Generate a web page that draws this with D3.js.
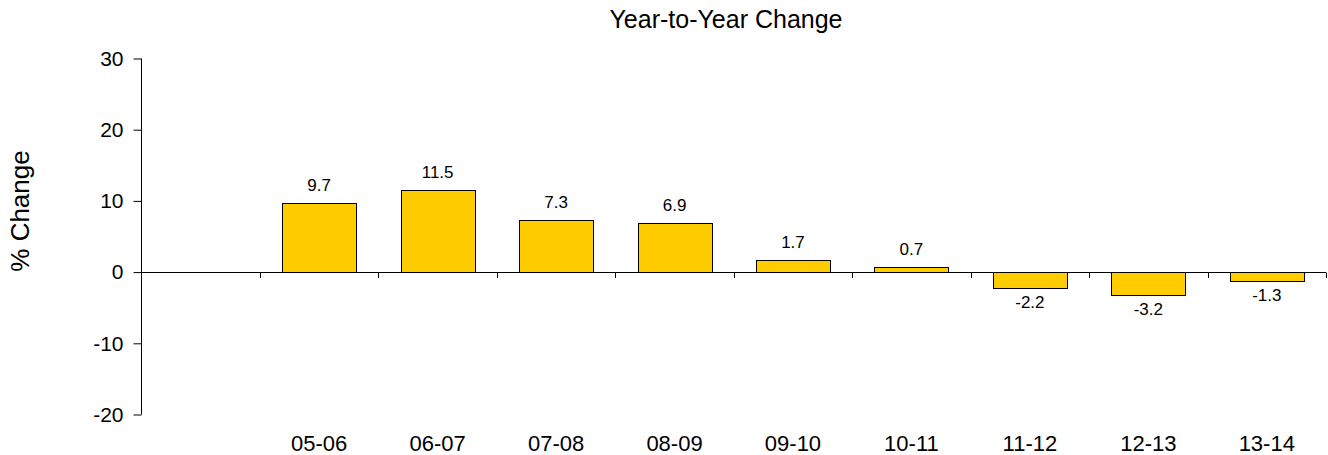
<!DOCTYPE html>
<html><head><meta charset="utf-8">
<script src="https://cdn.jsdelivr.net/npm/d3@7"></script>
<style>body{margin:0;background:#fff;} svg{display:block;font-family:"Liberation Sans",Arial,sans-serif;}</style>
</head><body>
<svg id="c" width="1328" height="455"></svg>
<script>
const categories = ["04-05","05-06","06-07","07-08","08-09","09-10","10-11","11-12","12-13","13-14"];
const tickLabels = ["","05-06","06-07","07-08","08-09","09-10","10-11","11-12","12-13","13-14"];
const values = [null, 9.7, 11.5, 7.3, 6.9, 1.7, 0.7, -2.2, -3.2, -1.3];
const yTicks = [-20, -10, 0, 10, 20, 30];

const svg = d3.select("#c");
const x = d3.scaleBand().domain(categories).range([141.5, 1326]).paddingInner(0.375).paddingOuter(0.1875);
const y = d3.scaleLinear().domain([-20, 30]).range([414.5, 58.5]);

// title
svg.append("text").attr("x", 726).attr("y", 28).attr("text-anchor", "middle")
  .style("font-size", "25px").text("Year-to-Year Change");
// y title
svg.append("text").attr("transform", "translate(29,211) rotate(-90)").attr("text-anchor", "middle")
  .style("font-size", "26px").text("% Change");

// bars
const data = categories.map((c, i) => ({c, v: values[i]})).filter(d => d.v !== null);
svg.selectAll("rect.bar").data(data).join("rect").attr("class", "bar")
  .attr("x", d => Math.round(x(d.c)) + 0.5)
  .attr("width", Math.round(x.bandwidth()))
  .attr("y", d => Math.round(y(Math.max(0, d.v))) + 0.5)
  .attr("height", d => Math.abs(Math.round(y(d.v)) - Math.round(y(0))))
  .attr("fill", "#FFCC00").attr("stroke", "#000").attr("stroke-width", 1);

// value labels
svg.selectAll("text.val").data(data).join("text").attr("class", "val")
  .attr("x", d => x(d.c) + x.bandwidth() / 2)
  .attr("y", d => d.v >= 0 ? y(d.v) - 12 : y(d.v) + 20)
  .attr("text-anchor", "middle").style("font-size", "17px")
  .text(d => d.v.toFixed(1));

// y axis
const yAxis = d3.axisLeft(y).tickValues(yTicks).tickSize(8).tickPadding(10).tickFormat(d3.format("d"));
const gy = svg.append("g").attr("transform", "translate(141.5,0)").call(yAxis);
gy.select(".domain").attr("d", `M0,${y(30)}V${y(-20)}`).attr("stroke", "#000");
gy.selectAll(".tick line").attr("stroke", "#000");
gy.selectAll(".tick text").style("font-size", "21px").attr("fill", "#000").attr("font-family", null)
  .text(d => d < 0 ? "-" + Math.abs(d) : String(d));

// x axis at zero
const xEdge = d3.scaleLinear().domain([0, categories.length]).range([141.5, 1326]);
const gx = svg.append("g");
gx.append("line").attr("x1", 141.5).attr("x2", 1326).attr("y1", Math.round(y(0)) + 0.5).attr("y2", Math.round(y(0)) + 0.5).attr("stroke", "#000");
gx.selectAll("line.tk").data(d3.range(1, categories.length + 1)).join("line").attr("class", "tk")
  .attr("x1", d => Math.round(xEdge(d)) + 0.5).attr("x2", d => Math.round(xEdge(d)) + 0.5)
  .attr("y1", Math.round(y(0)) + 0.5).attr("y2", Math.round(y(0)) + 6).attr("stroke", "#000");
svg.selectAll("text.xl").data(categories).join("text").attr("class", "xl")
  .attr("x", d => x(d) + x.bandwidth() / 2).attr("y", 451)
  .attr("text-anchor", "middle").style("font-size", "22px")
  .text((d, i) => tickLabels[i]);
</script>
</body></html>
